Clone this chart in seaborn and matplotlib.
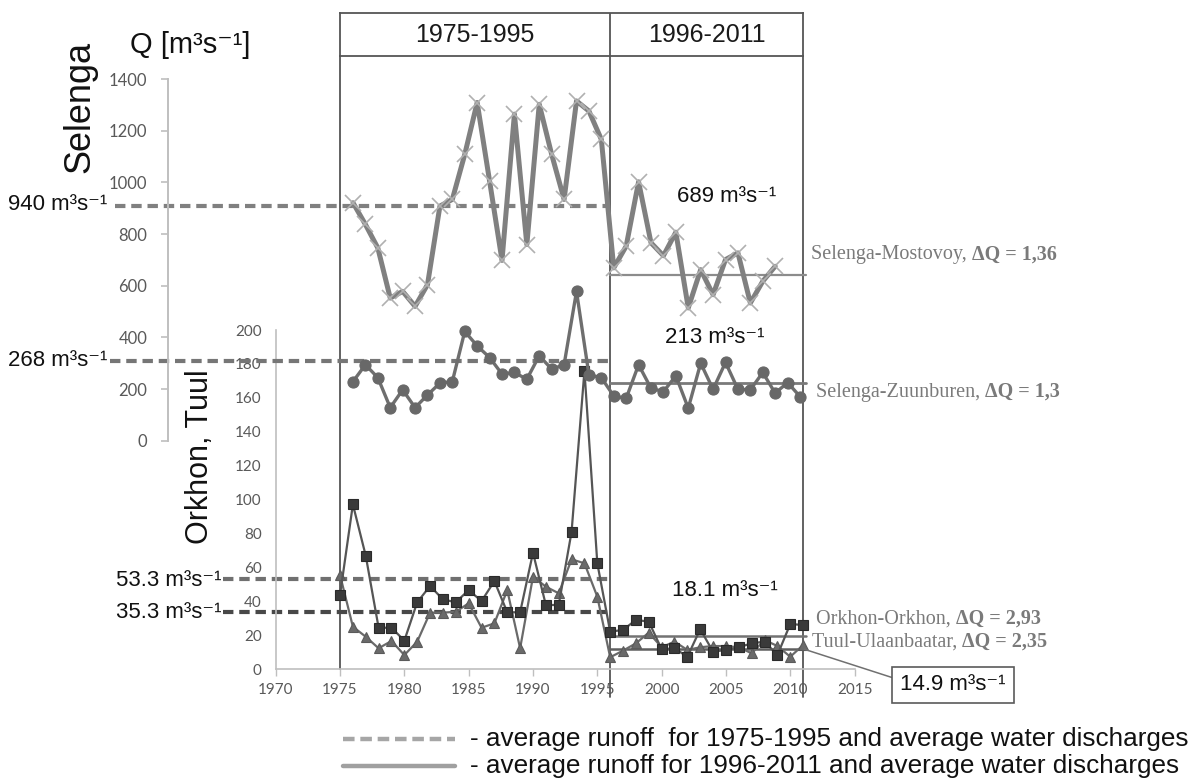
import matplotlib
matplotlib.use("Agg")
import matplotlib.pyplot as plt
import matplotlib.transforms as mtransforms
from matplotlib.lines import Line2D
import seaborn as sns

# ---------------- data ----------------
years_mostovoy = list(range(1975, 2010))
mostovoy = [921, 837, 746, 552, 578, 520, 604, 908, 934, 1108, 1309, 1005, 698,
            1264, 759, 1302, 1108, 934, 1315, 1276, 1166,
            669, 753, 1002, 766, 716, 807, 514, 662, 565, 701, 727, 533, 617, 675]

years_all = list(range(1975, 2012))
zuunburen = [229, 294, 244, 128, 197, 128, 177, 223, 229, 423, 367, 322, 258,
             264, 238, 329, 277, 294, 578, 255, 244,
             173, 164, 294, 203, 190, 251, 126, 300, 199, 303, 199, 197, 264,
             184, 225, 171]
orkhon = [43.8, 97.2, 66.9, 24.5, 24.5, 16.9, 39.5, 49.1, 41.2, 39.5, 46.7,
          40.2, 52.0, 33.6, 33.6, 68.7, 37.9, 37.9, 81.1, 176.0, 62.5,
          22.2, 23.2, 29.1, 28.1, 11.8, 12.4, 7.4, 23.6, 10.4, 11.4, 13.0,
          15.3, 16.3, 8.4, 26.7, 26.1]
tuul = [55.6, 25.1, 19.2, 12.4, 16.7, 8.4, 16.3, 33.4, 33.4, 33.9, 38.9,
        24.5, 27.1, 46.7, 12.4, 54.6, 48.7, 44.8, 64.8, 62.5, 42.8,
        7.1, 11.0, 15.3, 21.6, 13.0, 16.3, 11.4, 13.0, 13.7, 13.7, 13.0,
        9.4, 17.3, 13.7, 7.4, 14.3]

# average levels as drawn in the picture
selenga_pre_levels = [910, 310]      # Mostovoy, Zuunburen (dashed, 1975-1995)
selenga_post_levels = [643, 223]     # Mostovoy, Zuunburen (solid, 1996-2011)
orkhon_pre_levels = [53.0, 33.6]     # Orkhon, Tuul (dashed)
orkhon_post_levels = [19.6, 11.8]    # Orkhon, Tuul (solid)

pre_labels = ["940", "268", "53.3", "35.3"]
post_labels = ["689", "213", "18.1", "14.9"]
station_names = ["Selenga-Mostovoy", "Selenga-Zuunburen", "Orkhon-Orkhon",
                 "Tuul-Ulaanbaatar"]
delta_q = ["1,36", "1,3", "2,93", "2,35"]
period_labels = ["1975-1995", "1996-2011"]
period_bounds = [1975, 1996, 2011]

selenga_ticks = list(range(0, 1401, 200))
orkhon_ticks = list(range(0, 201, 20))
year_ticks = list(range(1970, 2016, 5))

# ---------------- style ----------------
sns.set_theme(style="white")
plt.rcParams["font.family"] = ["Liberation Sans", "DejaVu Sans"]

W, H = 1199, 778
fig = plt.figure(figsize=(W / 100, H / 100), dpi=100)
fig.patch.set_facecolor("white")


def fx(x):
    return x / W


def fy(y):
    return 1 - y / H


def rect(l, t, r, b):
    return [l / W, 1 - b / H, (r - l) / W, (b - t) / H]


UNIT = " m\u00b3s\u207b\u00b9"
FAM = ["Liberation Sans", "DejaVu Sans"]
GREY_TXT = "#595959"
AXIS_C = "#bfbfbf"

# main axes (Orkhon, Tuul)
ax = fig.add_axes(rect(275.7, 330, 854.6, 669.3))
# overlay axes (Selenga)
ax_s = fig.add_axes(rect(275.7, 79, 854.6, 440.7))
ax_s.patch.set_visible(False)

# ---------------- series ----------------
sns.lineplot(x=years_all, y=tuul, ax=ax, color="#6a6a6a", linewidth=1.6,
             marker="^", markersize=7.5, markerfacecolor="#6a6a6a",
             markeredgecolor="#5a5a5a", markeredgewidth=0.8, zorder=3)
sns.lineplot(x=years_all, y=orkhon, ax=ax, color="#555555", linewidth=1.6,
             marker="s", markersize=7, markerfacecolor="#3a3a3a",
             markeredgecolor="#2a2a2a", markeredgewidth=0.8, zorder=4)

sns.lineplot(x=years_mostovoy, y=mostovoy, ax=ax_s, color="#808080",
             linewidth=3.6, marker="x", markersize=12,
             markeredgecolor="#b0b0b0", markeredgewidth=1.2, zorder=3)
sns.lineplot(x=years_all, y=zuunburen, ax=ax_s, color="#6e6e6e",
             linewidth=2.4, marker="o", markersize=8,
             markerfacecolor="#686868", markeredgecolor="#686868",
             markeredgewidth=0.8, zorder=3)

# ---------------- average lines ----------------
blend = mtransforms.blended_transform_factory(ax.transData, ax_s.transData)
dash = (0, (2.5, 1.4))
sel_dash_start = [1957.5, 1957.1]
sel_dash_colors = ["#808080", "#767676"]
for lvl, x0, c in zip(selenga_pre_levels, sel_dash_start, sel_dash_colors):
    ax_s.plot([x0, period_bounds[1]], [lvl, lvl], transform=blend, color=c,
              lw=3.0, ls=dash, clip_on=False, zorder=2)
for lvl, c, lw in zip(selenga_post_levels, ["#8c8c8c", "#7a7a7a"], [1.6, 2.0]):
    ax_s.plot([period_bounds[1], period_bounds[2] + 0.2], [lvl, lvl],
              transform=blend, color=c, lw=lw, clip_on=False, zorder=2)

for lvl, c in zip(orkhon_pre_levels, ["#707070", "#484848"]):
    ax.plot([1965.9, period_bounds[1]], [lvl, lvl], color=c, lw=3.0, ls=dash,
            clip_on=False, zorder=2)
for lvl, c in zip(orkhon_post_levels, ["#737373", "#5f5f5f"]):
    ax.plot([period_bounds[1], period_bounds[2] + 0.2], [lvl, lvl], color=c,
            lw=1.8, clip_on=False, zorder=2)

# period separators
top_frac = (669.3 - 56) / (669.3 - 330)
low_frac = (669.3 - 697) / (669.3 - 330)
ax.axvline(period_bounds[0], 0, top_frac, color="#555555", lw=1.3, clip_on=False, zorder=1)
for yr in period_bounds[1:]:
    ax.axvline(yr, low_frac, top_frac, color="#555555", lw=1.3, clip_on=False, zorder=1)

# ---------------- axes styling ----------------
ax.set_xlim(1970, 2015)
ax.set_ylim(0, 200)
ax_s.set_xlim(1968.775, 2015.396)
ax_s.set_ylim(0, 1400)

for sp in ["top", "right"]:
    ax.spines[sp].set_visible(False)
for sp in ["left", "bottom"]:
    ax.spines[sp].set_color(AXIS_C)
    ax.spines[sp].set_linewidth(1.2)
ax.set_xticks(year_ticks, labels=[str(t) for t in year_ticks],
              fontfamily="Lato", fontsize=11, color=GREY_TXT)
ax.set_yticks(orkhon_ticks, labels=[str(t) for t in orkhon_ticks],
              fontfamily="Lato", fontsize=11, color=GREY_TXT)
ax.tick_params(axis="x", length=5, width=1, color=AXIS_C, pad=5, bottom=True)
ax.tick_params(axis="y", length=0, pad=10, left=True)
ax.set_xlabel("")
ax.set_ylabel("")

for sp in ["top", "right", "bottom"]:
    ax_s.spines[sp].set_visible(False)
ax_s.spines["left"].set_position(("axes", (168.3 - 275.7) / (854.6 - 275.7)))
ax_s.spines["left"].set_color(AXIS_C)
ax_s.spines["left"].set_linewidth(1.4)
ax_s.set_xticks([])
ax_s.set_yticks(selenga_ticks, labels=[str(t) for t in selenga_ticks],
                fontfamily="Lato", fontsize=12, color=GREY_TXT)
ax_s.tick_params(axis="y", length=5, width=1.2, color=AXIS_C, pad=10, left=True)
ax_s.set_xlabel("")
ax_s.set_ylabel("")

# header boxes
axh = fig.add_axes(rect(340, 13, 803, 56))
axh.set_xlim(period_bounds[0], period_bounds[2])
axh.set_ylim(0, 1)
axh.set_xticks([])
axh.set_yticks([])
for sp in axh.spines.values():
    sp.set_color("#555555")
    sp.set_linewidth(1.3)
axh.axvline(period_bounds[1], color="#555555", lw=1.3)
for lab, a, b in zip(period_labels, period_bounds[:-1], period_bounds[1:]):
    axh.text((a + b) / 2, 0.5, lab, ha="center", va="center", fontsize=18,
             color="#1a1a1a")

# ---------------- texts ----------------
fig.text(fx(130), fy(45), "Q [m\u00b3s\u207b\u00b9]", ha="left", va="center",
         fontsize=21, color="#111111", family=FAM)
fig.text(fx(80), fy(107), "Selenga", rotation=90, ha="center", va="center",
         fontsize=26, color="#111111")
fig.text(fx(200), fy(457), "Orkhon, Tuul", rotation=90, ha="center",
         va="center", fontsize=22, color="#111111")

pre_pos = [(107, 205), (107, 360), (222, 580), (222, 613)]
for lab, (x, y) in zip(pre_labels, pre_pos):
    fig.text(fx(x), fy(y), lab + UNIT, ha="right", va="center", fontsize=16,
             color="#111111", family=FAM)
post_pos = [(677, 197), (665, 338), (672, 590)]
for lab, (x, y) in zip(post_labels[:3], post_pos):
    fig.text(fx(x), fy(y), lab + UNIT, ha="left", va="center", fontsize=16,
             color="#111111", family=FAM)

ax.annotate(post_labels[3] + UNIT, xy=(period_bounds[2] + 0.1, orkhon_post_levels[1]),
            xycoords="data", xytext=(fx(953), fy(685)),
            textcoords="figure fraction", ha="center", va="center",
            fontsize=16, color="#111111", family=FAM, annotation_clip=False,
            bbox=dict(boxstyle="square,pad=0.35", fc="white", ec="#5a5a5a", lw=1.2),
            arrowprops=dict(arrowstyle="-", color="#707070", lw=1.1,
                            relpos=(0, 0.73), shrinkA=0, shrinkB=0))

name_pos = [(811, 255), (816, 392), (816, 619), (812, 642)]
for name, dq, (x, y) in zip(station_names, delta_q, name_pos):
    t1 = fig.text(fx(x), fy(y), name + ", ", ha="left", va="center",
                  fontsize=14.5, family="Liberation Serif", color="#7a7a7a")
    ax.annotate("\u0394Q = " + dq, xy=(1, 0.5), xycoords=t1, ha="left",
                va="center", fontsize=14.5, family="Liberation Serif",
                fontweight="bold", color="#7a7a7a", annotation_clip=False)

# bottom legend
fig.add_artist(Line2D([fx(343), fx(455)], [fy(739), fy(739)],
                      transform=fig.transFigure, color="#a6a6a6", lw=3.2,
                      ls=(0, (2.6, 1.3))))
fig.add_artist(Line2D([fx(343), fx(455)], [fy(766), fy(766)],
                      transform=fig.transFigure, color="#a0a0a0", lw=3.2))
legend_texts = ["- average runoff  for 1975-1995 and average water discharges",
                "- average runoff for 1996-2011 and average water discharges"]
for txt, y in zip(legend_texts, [739, 766]):
    fig.text(fx(470), fy(y), txt, ha="left", va="center", fontsize=18.8,
             color="#111111")

fig.savefig("out.png", dpi=100, facecolor="white")
